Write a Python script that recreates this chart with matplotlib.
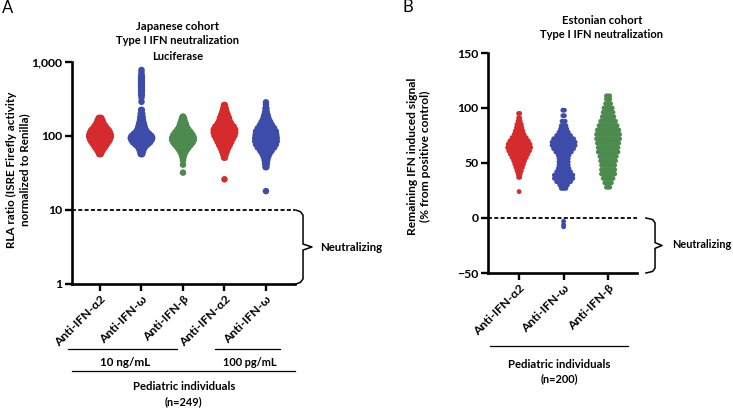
import numpy as np
import matplotlib
matplotlib.use("Agg")
import matplotlib.pyplot as plt
from matplotlib.lines import Line2D

plt.rcParams['font.family'] = ['Lato', 'Open Sans', 'DejaVu Sans']
plt.rcParams['font.weight'] = 'bold'

# ---------------- DATA (binned values + counts) ----------------
# Panel A: Japanese cohort (RLA ratio, log scale), n=249 per group
a_labels = ['Anti-IFN-α2', 'Anti-IFN-ω', 'Anti-IFN-β', 'Anti-IFN-α2', 'Anti-IFN-ω']
a1_vals = [57, 62, 67, 72, 78, 84, 90, 97, 104, 112, 120, 129, 139, 150, 162, 175]
a1_cnts = [3, 6, 10, 14, 18, 22, 25, 27, 27, 25, 22, 17, 13, 9, 7, 4]
a2_vals = [57, 62, 67, 72, 77, 82, 88, 94, 100, 107, 115, 124, 135, 148, 163, 180, 200, 225,
           290, 330, 360, 400, 430, 460, 490, 520, 560, 600, 650, 720, 780]
a2_cnts = [3, 5, 7, 11, 17, 23, 27, 29, 27, 21, 15, 11, 9, 7, 5, 4, 3, 2,
           1, 1, 2, 2, 2, 2, 2, 2, 2, 2, 2, 1, 1]
a3_vals = [32, 41, 47, 51, 55, 60, 65, 70, 76, 82, 88, 95, 103, 112, 122, 133, 145, 158, 172, 182]
a3_cnts = [1, 1, 1, 2, 4, 7, 11, 16, 22, 27, 30, 30, 27, 22, 16, 11, 9, 6, 4, 2]
a4_vals = [26, 51, 56, 62, 68, 75, 83, 92, 101, 111, 122, 134, 147, 161, 177, 195, 215, 237, 262]
a4_cnts = [1, 2, 4, 7, 10, 14, 18, 22, 26, 28, 28, 24, 18, 14, 12, 9, 6, 4, 2]
a5_vals = [18, 38, 42, 47, 52, 57, 63, 70, 77, 85, 94, 104, 115, 127, 140, 155, 172, 190, 210, 235, 262, 285]
a5_cnts = [1, 2, 3, 4, 6, 9, 14, 20, 24, 26, 26, 25, 24, 20, 15, 11, 7, 5, 3, 2, 1, 1]

# Panel B: Estonian cohort (% remaining signal), n=200 per group
b_labels = ['Anti-IFN-α2', 'Anti-IFN-ω', 'Anti-IFN-β']
b1_vals = [24, 37, 40, 43, 46, 49, 52, 55, 58, 61, 64, 67, 70, 73, 76, 79, 82, 85, 88, 91, 95]
b1_cnts = [1, 2, 3, 5, 7, 9, 11, 14, 17, 20, 22, 21, 18, 14, 10, 8, 6, 5, 3, 2, 2]
b2_vals = [-8, -6, -3, 27, 30, 33, 36, 39, 42, 45, 48, 51, 54, 57, 60, 63, 66, 69, 72, 75, 78, 81, 84, 88, 93, 98]
b2_cnts = [1, 1, 1, 4, 6, 10, 13, 13, 10, 8, 7, 7, 7, 8, 11, 14, 16, 16, 14, 10, 7, 5, 4, 3, 2, 2]
b3_vals = [28, 32, 36, 40, 44, 48, 52, 56, 60, 64, 68, 72, 76, 80, 84, 88, 92, 96, 100, 104, 108, 111]
b3_cnts = [3, 5, 7, 9, 9, 9, 10, 11, 13, 13, 14, 15, 15, 14, 12, 10, 8, 7, 6, 4, 3, 3]

RED, BLUE, GREEN = '#d52b2d', '#3d4ca8', '#4c8a4d'
a_colors = [RED, BLUE, GREEN, RED, BLUE]
b_colors = [RED, BLUE, GREEN]

W, H = 733, 408
fig = plt.figure(figsize=(W / 100, H / 100), dpi=100)
renderer = fig.canvas.get_renderer()


def fx(p):
    return p / W


def fy(p):
    return 1 - p / H


def rect(l, t, r, b):
    return [fx(l), fy(b), fx(r) - fx(l), fy(t) - fy(b)]


def fit(t, target_px, along='w'):
    bb = t.get_window_extent(renderer)
    cur = bb.width if along == 'w' else bb.height
    t.set_fontsize(t.get_fontsize() * target_px / cur)
    return t


def label(x, y, s, target_px, rotation=0, ha='center', **kw):
    kw2 = dict(fontsize=9, fontweight='bold', color='black', ha=ha, va='center',
               rotation=rotation, linespacing=1.15)
    kw2.update(kw)
    t = fig.text(fx(x), fy(y), s, **kw2)
    return fit(t, target_px, 'h' if rotation == 90 else 'w')


def swarm(ax, pos, vals, cnts, color, px_per_cat, width_px, dot_px, s):
    maxc = max(cnts)
    step_px = (width_px - dot_px) / max(maxc - 1, 1)
    step = step_px / px_per_cat
    xs, ys = [], []
    for v, c in zip(vals, cnts):
        for i in range(c):
            xs.append(pos + (i - (c - 1) / 2) * step)
            ys.append(v)
    ax.scatter(xs, ys, s=s, color=color, edgecolors='none', zorder=3, clip_on=False)


def style_axes(ax):
    for sp in ['top', 'right']:
        ax.spines[sp].set_visible(False)
    for sp in ['left', 'bottom']:
        ax.spines[sp].set_linewidth(1.9)
    ax.tick_params(axis='both', direction='out', length=5, width=1.7, labelsize=8.8, pad=2)


# ---------------- Panel A ----------------
axA = fig.add_axes(rect(72, 62, 295, 284))
axA.set_yscale('log')
axA.set_ylim(1, 1000)
axA.set_xlim(-0.675, 4.7)
axA.set_yticks([1, 10, 100, 1000])
axA.set_yticklabels(['1', '10', '100', '1,000'])
axA.yaxis.set_minor_locator(matplotlib.ticker.NullLocator())
axA.set_xticks(range(5))
axA.set_xticklabels(a_labels, rotation=45, ha='right', rotation_mode='anchor')
style_axes(axA)
axA.axhline(10, ls=(0, (2.2, 1.3)), lw=1.3, color='black', zorder=1, clip_on=False)

a_data = [(a1_vals, a1_cnts), (a2_vals, a2_cnts), (a3_vals, a3_cnts), (a4_vals, a4_cnts), (a5_vals, a5_cnts)]
for i, ((v, c), col) in enumerate(zip(a_data, a_colors)):
    swarm(axA, i, v, c, col, 41.5, 28, 6.5, 22)

# brace A
bx = [1.004, 1.024, 1.036, 1.036, 1.076, 1.036, 1.036, 1.024, 1.004]
by = [0.333, 0.326, 0.31, 0.18, 0.1667, 0.153, 0.023, 0.007, 0.0]
axA.add_line(Line2D(bx, by, transform=axA.transAxes, color='black', lw=1.1, clip_on=False))
label(320, 248, 'Neutralizing', 62, ha='left')

label(18, 170, 'RLA ratio (ISRE Firefly activity\nnormalized to Renilla)', 156, rotation=90)

for t, yy, wpx in [('Japanese cohort', 26, 83), ('Type I IFN neutralization', 41, 123), ('Luciferase', 56, 51)]:
    label(178, yy, t, wpx)
fig.add_artist(Line2D([fx(68), fx(177)], [fy(349), fy(349)], color='black', lw=0.9))
fig.add_artist(Line2D([fx(215), fx(280)], [fy(349), fy(349)], color='black', lw=0.9))
fig.add_artist(Line2D([fx(72), fx(295)], [fy(371), fy(371)], color='black', lw=0.9))
label(125, 362, '10 ng/mL', 50)
label(250, 362, '100 pg/mL', 54)
label(184, 387, 'Pediatric individuals', 102)
label(183, 402, '(n=249)', 38)
fig.text(fx(2), fy(8), 'A', ha='left', va='center', fontsize=12, fontweight='normal')

# ---------------- Panel B ----------------
axB = fig.add_axes(rect(488, 53, 637, 273))
axB.set_ylim(-50, 150)
axB.set_xlim(-0.7, 2.65)
axB.set_yticks([-50, 0, 50, 100, 150])
axB.set_xticks(range(3))
axB.set_xticklabels(b_labels, rotation=45, ha='right', rotation_mode='anchor')
style_axes(axB)
axB.axhline(0, ls=(0, (2.2, 1.3)), lw=1.3, color='black', zorder=1, clip_on=False)

b_data = [(b1_vals, b1_cnts), (b2_vals, b2_cnts), (b3_vals, b3_cnts)]
for i, ((v, c), col) in enumerate(zip(b_data, b_colors)):
    swarm(axB, i, v, c, col, 44.5, 28, 5, 12)

bx = [1.060, 1.105, 1.121, 1.121, 1.168, 1.121, 1.121, 1.105, 1.060]
by = [0.25, 0.243, 0.228, 0.138, 0.125, 0.112, 0.022, 0.007, 0.0]
axB.add_line(Line2D(bx, by, transform=axB.transAxes, color='black', lw=1.1, clip_on=False))
label(672, 245, 'Neutralizing', 59, ha='left')

label(419, 156, 'Remaining IFN induced signal\n(% from positive control)', 158, rotation=90)

for t, yy, wpx in [('Estonian cohort', 20, 80), ('Type I IFN neutralization', 34, 123)]:
    label(602, yy, t, wpx)
fig.add_artist(Line2D([fx(490), fx(628)], [fy(346), fy(346)], color='black', lw=0.9))
label(559, 364, 'Pediatric individuals', 102)
label(559, 379, '(n=200)', 38)
fig.text(fx(403), fy(7), 'B', ha='left', va='center', fontsize=12, fontweight='normal')

fig.savefig('out.png', dpi=100)
